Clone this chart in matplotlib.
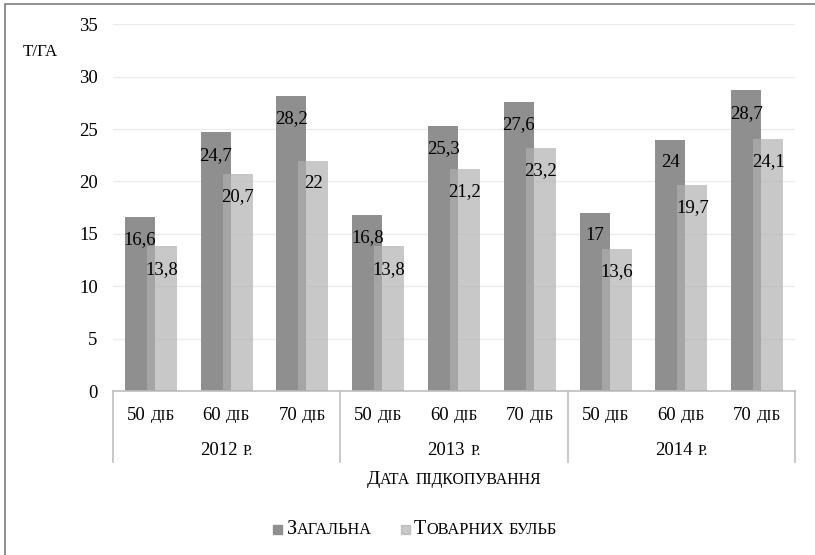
import numpy as np
import matplotlib
matplotlib.use('Agg')
import matplotlib.pyplot as plt
import matplotlib.transforms as mtransforms
from matplotlib.patches import Rectangle

plt.rcParams['font.family'] = ['Liberation Serif', 'DejaVu Serif']

# Урожайність цибулі, т/га
years = ['2012', '2013', '2014']
days = ['50', '60', '70']
total = [16.6, 24.7, 28.2, 16.8, 25.3, 27.6, 17, 24, 28.7]
marketable = [13.8, 20.7, 22, 13.8, 21.2, 23.2, 13.6, 19.7, 24.1]

dark = '#8f8f8f'
light = '#b0b0b0'
light_alpha = 0.69

fig = plt.figure(figsize=(8.15, 5.55), dpi=100)
ax = fig.add_axes([113/815, 164/555, 682/815, 366.7/555])

x = np.arange(len(total))
w = 0.396
off = 0.145
b1 = ax.bar(x - off, total, w, color=dark, zorder=2)
b2 = ax.bar(x + off, marketable, w, color=light, alpha=light_alpha, zorder=3)


def fmt(v):
    s = ('%.1f' % v).rstrip('0').rstrip('.')
    return s.replace('.', ',')


for bars, vals in ((b1, total), (b2, marketable)):
    for rect, v in zip(bars, vals):
        ax.annotate(fmt(v), (rect.get_x() + rect.get_width() / 2, v),
                    xytext=(0, -16.5), textcoords='offset points',
                    ha='center', va='center', fontsize=13.5, zorder=4)

ax.set_xlim(-0.5, len(total) - 0.5)
ax.set_ylim(0, 35)
ax.set_yticks(np.arange(0, 36, 5))
ax.tick_params(axis='y', length=0, pad=11, labelsize=13.5)
ax.set_xticks([])
ax.yaxis.grid(True, color='#ececec', lw=1, zorder=0)
for side in ('left', 'right', 'top'):
    ax.spines[side].set_visible(False)
ax.spines['bottom'].set_color('#bfbfbf')
ax.spines['bottom'].set_linewidth(1.2)

# роздільники груп на осі категорій
for xb in (-0.5, 2.5, 5.5, 8.5):
    ax.plot([xb, xb], [0, -71/366.7], color='#bfbfbf', lw=1.2,
            transform=mtransforms.blended_transform_factory(ax.transData, ax.transAxes),
            clip_on=False)

renderer = fig.canvas.get_renderer()


def smallcaps(xpos, ypos, parts, transform, ha='center', gap=5):
    # parts: (рядок, розмір шрифту); пробел у кінці частини -> проміжок gap пікселів
    items = []
    for s, size in parts:
        t = fig.text(0, 0, s.strip(), fontsize=size, va='baseline', ha='left')
        items.append((t, t.get_window_extent(renderer).width, s.endswith(' ')))
    total_w = sum(it[1] for it in items) + gap * sum(it[2] for it in items[:-1])
    px = -total_w / 2 if ha == 'center' else 0
    for t, wd, sp in items:
        t.set_position((xpos, ypos))
        t.set_transform(mtransforms.offset_copy(transform, fig=fig, x=px, y=0, units='dots'))
        px += wd + (gap if sp else 0)


tick_tr = mtransforms.blended_transform_factory(ax.transData, fig.transFigure)
for i in range(len(total)):
    smallcaps(i, (555 - 420) / 555, [(days[i % 3] + ' ', 13.5), ('ДІБ', 11)], tick_tr)
for j, yr in enumerate(years):
    smallcaps(3 * j + 1, (555 - 455) / 555, [(yr + ' ', 13.5), ('Р.', 11)], tick_tr)

smallcaps(0.5 * (113 + 795) / 815, (555 - 484) / 555,
          [('Д', 14), ('АТА ', 11.3), ('ПІДКОПУВАННЯ', 11.3)], fig.transFigure)
smallcaps(40 / 815, (555 - 56) / 555, [('Т/ГА', 12.2)], fig.transFigure)

# легенда
leg_y = (555 - 534) / 555
fig.patches.append(Rectangle((273/815, leg_y), 9/815, 9/555, color=dark,
                             transform=fig.transFigure, figure=fig))
fig.patches.append(Rectangle((401/815, leg_y), 9/815, 9/555, color=light, alpha=light_alpha,
                             transform=fig.transFigure, figure=fig))
smallcaps(287/815, leg_y, [('З', 14.5), ('АГАЛЬНА', 11.7)], fig.transFigure, ha='left')
smallcaps(414/815, leg_y, [('Т', 14.5), ('ОВАРНИХ ', 11.7), ('БУЛЬБ', 11.7)],
          fig.transFigure, ha='left')

# рамка діаграми
fig.patches.append(Rectangle((5/815, -0.1), 1.2, (551/555) + 0.1, fill=False,
                             edgecolor='#707070', lw=1.1,
                             transform=fig.transFigure, figure=fig))

fig.savefig('out.png', dpi=100)
